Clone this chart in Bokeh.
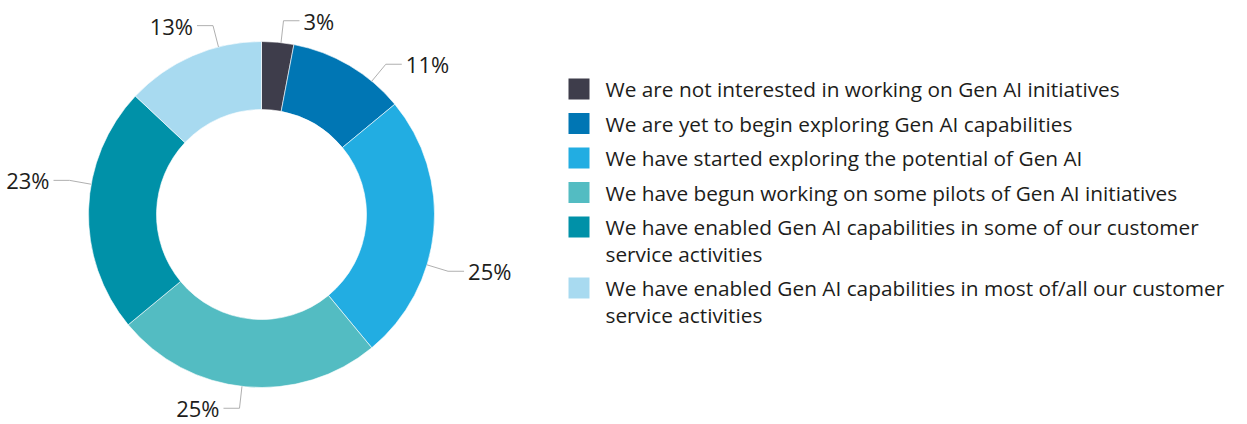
import math
import textwrap
from bokeh.plotting import figure
from bokeh.models import Range1d, ColumnDataSource
from bokeh.core.properties import value
from bokeh.embed import file_html
from bokeh.resources import INLINE

# ---------------- data ----------------
categories = [
    "We are not interested in working on Gen AI initiatives",
    "We are yet to begin exploring Gen AI capabilities",
    "We have started exploring the potential of Gen AI",
    "We have begun working on some pilots of Gen AI initiatives",
    "We have enabled Gen AI capabilities in some of our customer service activities",
    "We have enabled Gen AI capabilities in most of/all our customer service activities",
]
values = [3, 11, 25, 25, 23, 13]
colors = ["#3e3d4b", "#0076b4", "#22ade2", "#53bcc2", "#0091a8", "#a8daf0"]

# ---------------- layout (screen pixels) ----------------
W, H = 1240, 424
CX, CY = 261, 214          # donut centre (px)
R_OUT, R_IN = 173, 105
R_ELBOW = 195
SEG = 16
# small clockwise nudge (in % of the circle) of each label's leader, as in the original layout
LABEL_SHIFT_PCT = [0.3, 2.5, 3.2, 0.3, 2.3, 2.5]
FONT = "Open Sans"
LABEL_SIZE = "22px"
LEG_SIZE = "20.8px"
TEXT_COLOR = "#1d1d1b"

p = figure(width=W, height=H, x_range=Range1d(0, W), y_range=Range1d(-H, 0),
           output_backend="svg", toolbar_location=None, x_axis_type=None, y_axis_type=None,
           min_border=0)
p.outline_line_color = None
p.background_fill_color = "white"
p.border_fill_color = "white"

total = float(sum(values))
starts, ends, mids = [], [], []
cum = 0.0
for v in values:
    a0 = math.pi / 2 - 2 * math.pi * cum / total
    cum += v
    a1 = math.pi / 2 - 2 * math.pi * cum / total
    starts.append(a0)
    ends.append(a1)
    mids.append((a0 + a1) / 2)

wsrc = ColumnDataSource(dict(x=[CX] * len(values), y=[-CY] * len(values),
                             start=starts, end=ends, color=colors))
p.annular_wedge(x="x", y="y", inner_radius=R_IN, outer_radius=R_OUT,
                start_angle="start", end_angle="end", direction="clock",
                fill_color="color", line_color="white", line_width=0.6, source=wsrc)

# leader lines + labels
lxs, lys, tx, ty, tt, ta = [], [], [], [], [], []
for v, m, sh in zip(values, mids, LABEL_SHIFT_PCT):
    m = m - 2 * math.pi * sh / 100.0
    c, s = math.cos(m), math.sin(m)
    x0, y0 = CX + R_OUT * c, -CY + R_OUT * s
    x1, y1 = CX + R_ELBOW * c, -CY + R_ELBOW * s
    side = 1 if c >= 0 else -1
    x2 = x1 + side * SEG
    lxs.append([x0, x1, x2])
    lys.append([y0, y1, y1])
    tx.append(x2 + side * 4)
    ty.append(y1)
    tt.append(f"{v}%")
    ta.append("left" if side > 0 else "right")

p.multi_line(lxs, lys, line_color="#b0b0b0", line_width=1)
lsrc = ColumnDataSource(dict(x=tx, y=ty, text=tt, align=ta))
p.text(x="x", y="y", text="text", text_align="align", text_baseline="middle",
       text_font=value(FONT), text_font_size=LABEL_SIZE, text_color=TEXT_COLOR, source=lsrc)

# legend
LEG_X_SQ, LEG_X_TXT = 578.5, 605
ROW0, ROW_STEP, LINE_H = 88.5, 34.5, 26.5
sq_y, gx, gy, gt = [], [], [], []
y = ROW0
for cat in categories:
    lines = textwrap.wrap(cat, width=63)
    sq_y.append(-y)
    for k, ln in enumerate(lines):
        gx.append(LEG_X_TXT)
        gy.append(-(y + k * LINE_H))
        gt.append(ln)
    y += ROW_STEP + (len(lines) - 1) * LINE_H

p.rect(x=[LEG_X_SQ] * len(categories), y=sq_y, width=21, height=21,
       fill_color=colors, line_color=None)
p.text(x=gx, y=gy, text=gt, text_align="left", text_baseline="middle",
       text_font=value(FONT), text_font_size=LEG_SIZE, text_color=TEXT_COLOR)

open("out.html", "w").write(file_html(p, INLINE))
